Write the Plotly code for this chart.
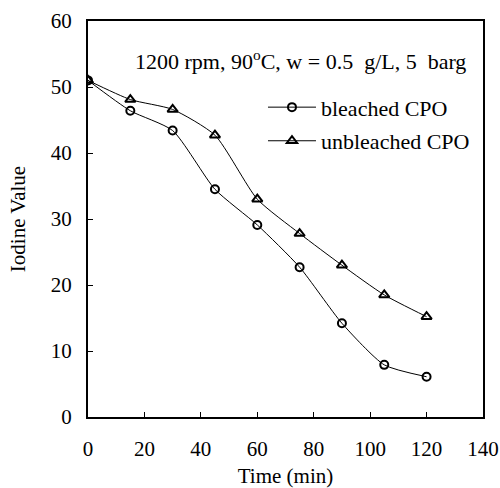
import plotly.graph_objects as go

time_min = [0, 15, 30, 45, 60, 75, 90, 105, 120]
bleached = [51.0, 46.4, 43.4, 34.5, 29.1, 22.7, 14.2, 7.9, 6.1]
unbleached = [51.0, 48.1, 46.6, 42.7, 33.0, 27.8, 23.0, 18.5, 15.2]
x_ticks = [0, 20, 40, 60, 80, 100, 120, 140]
y_ticks = [0, 10, 20, 30, 40, 50, 60]

FONT = "Liberation Serif"
FS = 21

fig = go.Figure()
fig.add_trace(go.Scatter(
    x=time_min, y=bleached, name="bleached CPO", mode="lines+markers",
    legendgroup="a",
    line=dict(color="black", width=1, shape="spline", smoothing=0.6),
    marker=dict(symbol="circle-open", size=8, color="black", line=dict(width=2)),
))
fig.add_trace(go.Scatter(
    x=time_min, y=unbleached, name="unbleached CPO", mode="lines+markers",
    legendgroup="b",
    line=dict(color="black", width=1, shape="spline", smoothing=0.6),
    marker=dict(symbol="triangle-up-open", size=9, color="black", line=dict(width=2)),
))

fig.add_annotation(
    x=0.537, xref="paper", y=0.9015, yref="paper",
    text="1200 rpm, 90<sup>o</sup>C, w = 0.5\u00a0 g/L, 5\u00a0 barg",
    showarrow=False, font=dict(family=FONT, size=22, color="black"),
    xanchor="center", yanchor="middle",
)

fig.update_layout(
    template="none",
    width=500, height=488,
    margin=dict(l=88, r=17, t=21, b=71, pad=0),
    paper_bgcolor="white", plot_bgcolor="white",
    font=dict(family=FONT, size=FS, color="black"),
    showlegend=True,
    legend=dict(x=0.443, y=0.739, xanchor="left", yanchor="middle",
                bgcolor="rgba(0,0,0,0)", borderwidth=0,
                font=dict(family=FONT, size=22),
                tracegroupgap=2, itemwidth=48),
    xaxis=dict(range=[0, 140], tickvals=x_ticks, ticks="inside", ticklen=5,
               tickcolor="black", showline=True, linecolor="black", linewidth=2,
               mirror=True, showgrid=False, zeroline=False, automargin=False,
               ticklabelstandoff=12,
               title=dict(text="Time (min)", font=dict(family=FONT, size=FS), standoff=19),
               tickfont=dict(family=FONT, size=FS)),
    yaxis=dict(range=[0, 60], tickvals=y_ticks, ticks="inside", ticklen=5,
               tickcolor="black", showline=True, linecolor="black", linewidth=2,
               mirror=True, showgrid=False, zeroline=False, automargin=False,
               ticklabelstandoff=10,
               title=dict(text="Iodine Value", font=dict(family=FONT, size=FS), standoff=19),
               tickfont=dict(family=FONT, size=FS)),
)

# remove the default 8px page margin so the figure fills the window exactly
fig.write_html(
    "out.html",
    config={"displayModeBar": False},
    post_script="document.body.style.margin='0';document.body.style.overflow='hidden';",
)
